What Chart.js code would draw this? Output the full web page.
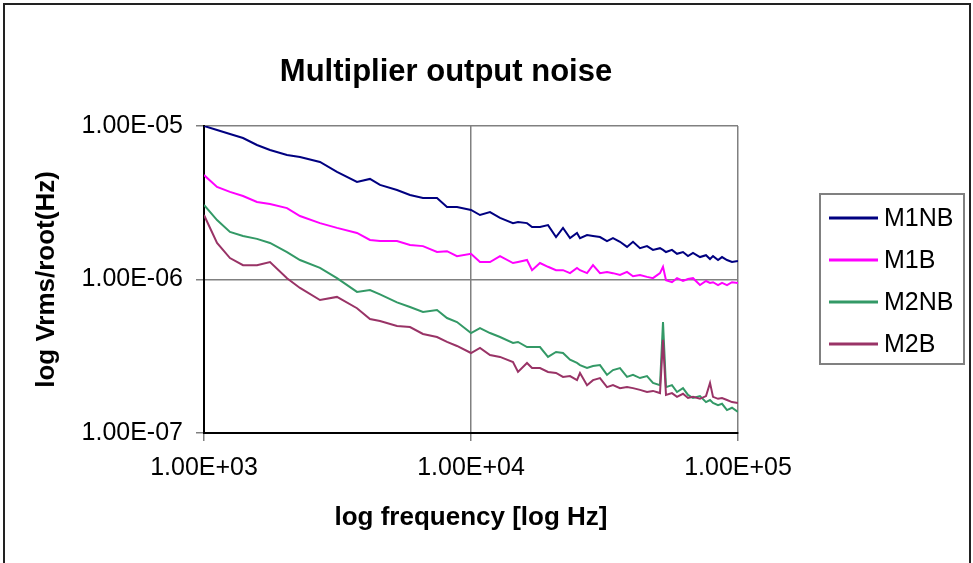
<!DOCTYPE html>
<html lang="en">
<head>
  <meta charset="UTF-8">
  <title>Multiplier output noise</title>
  <style>
    body { margin: 0; background: #fff; }
    #wrap { width: 973px; height: 563px; }
  </style>
  <script src="https://cdn.jsdelivr.net/npm/chart.js"></script>
</head>
<body>
  <div id="wrap"><canvas id="noiseChart" width="973" height="563"></canvas></div>

  <script>
    const chartTitle = 'Multiplier output noise';
    const xAxisTitle = 'log frequency [log Hz]';
    const yAxisTitle = 'log Vrms/root(Hz)';

    const seriesNames = ['M1NB', 'M1B', 'M2NB', 'M2B'];
    const seriesColors = ['#000080', '#FF00FF', '#339966', '#993366'];

    const xTickValues = [1e3, 1e4, 1e5];
    const xTickLabels = ['1.00E+03', '1.00E+04', '1.00E+05'];
    const yTickValues = [1e-7, 1e-6, 1e-5];
    const yTickLabels = ['1.00E-07', '1.00E-06', '1.00E-05'];

    // frequency in Hz (shared by all series)
    const freqHz = [1000, 1119, 1251, 1400, 1579, 1767, 2046, 2288, 2719, 3148,
      3741, 4184, 4562, 5283, 5909, 6609, 7459, 8131, 8862, 10000,
      10807, 11781, 12843, 14365, 15000, 16208, 16930, 18130, 19430, 20820,
      22110, 23490, 24946, 25600, 27200, 28640, 30418, 32310, 34020, 36145,
      38400, 40433, 42950, 45624, 48040, 51037, 52373, 53740, 56580, 59100,
      62230, 64970, 67840, 72040, 75890, 78560, 80620, 84180, 87130, 90950,
      94950, 100000];

    // noise in microvolts per root Hz
    const m1nb = [10.0, 9.42, 8.87, 8.35, 7.52, 6.98, 6.47, 6.28, 5.83, 5.02,
      4.32, 4.52, 4.13, 3.83, 3.55, 3.40, 3.40, 2.97, 2.97, 2.84,
      2.63, 2.75, 2.52, 2.33, 2.37, 2.33, 2.20, 2.20, 2.26, 1.89,
      2.17, 1.86, 2.01, 1.86, 1.95, 1.92, 1.89, 1.78, 1.86, 1.76,
      1.63, 1.76, 1.60, 1.65, 1.56, 1.60, 1.56, 1.51, 1.56, 1.47,
      1.51, 1.42, 1.49, 1.40, 1.44, 1.36, 1.42, 1.34, 1.40, 1.34,
      1.30, 1.32];
    const m1b = [4.79, 4.01, 3.72, 3.50, 3.20, 3.10, 2.92, 2.59, 2.33, 2.17,
      2.01, 1.81, 1.78, 1.78, 1.68, 1.65, 1.51, 1.53, 1.42, 1.47,
      1.30, 1.30, 1.42, 1.28, 1.30, 1.34, 1.15, 1.28, 1.21, 1.15,
      1.15, 1.10, 1.19, 1.15, 1.10, 1.24, 1.10, 1.12, 1.10, 1.07,
      1.12, 1.05, 1.07, 1.04, 1.02, 1.10, 1.21, 0.99, 0.96, 1.02,
      0.978, 1.008, 1.02, 0.92, 0.978, 0.95, 0.96, 0.92, 0.95, 0.92,
      0.96, 0.95];
    const m2nb = [3.06, 2.44, 2.04, 1.92, 1.84, 1.73, 1.51, 1.34, 1.19, 1.02,
      0.83, 0.854, 0.80, 0.71, 0.662, 0.614, 0.633, 0.561, 0.528, 0.448,
      0.483, 0.448, 0.422, 0.386, 0.392, 0.363, 0.363, 0.363, 0.313, 0.337,
      0.332, 0.30, 0.286, 0.277, 0.265, 0.273, 0.277, 0.239, 0.257, 0.265,
      0.232, 0.239, 0.228, 0.235, 0.212, 0.205, 0.528, 0.199, 0.205, 0.185,
      0.196, 0.177, 0.169, 0.174, 0.159, 0.164, 0.157, 0.152, 0.155, 0.141,
      0.146, 0.137];
    const m2b = [2.63, 1.73, 1.38, 1.24, 1.24, 1.30, 1.02, 0.881, 0.735, 0.77,
      0.65, 0.553, 0.537, 0.498, 0.49, 0.442, 0.422, 0.392, 0.369, 0.332,
      0.358, 0.322, 0.313, 0.29, 0.25, 0.286, 0.265, 0.265, 0.25, 0.246,
      0.232, 0.235, 0.221, 0.246, 0.205, 0.221, 0.228, 0.199, 0.205, 0.196,
      0.199, 0.196, 0.191, 0.185, 0.188, 0.182, 0.404, 0.177, 0.182, 0.172,
      0.180, 0.169, 0.172, 0.167, 0.174, 0.212, 0.172, 0.167, 0.169, 0.164,
      0.159, 0.157];

    const seriesValues = [m1nb, m1b, m2nb, m2b];
    const FONT = '"Liberation Sans", Arial, sans-serif';

    // frame, title and the boxed legend, Excel style
    const excelBits = {
      id: 'excelBits',
      beforeDraw(chart) {
        const ctx = chart.ctx;
        ctx.save();
        ctx.fillStyle = '#fff';
        ctx.fillRect(0, 0, chart.width, chart.height);
        ctx.strokeStyle = '#222';
        ctx.lineWidth = 2;
        ctx.strokeRect(4, 4, 966, 590);
        ctx.fillStyle = '#000';
        ctx.font = 'bold 31px ' + FONT;
        ctx.textAlign = 'center';
        ctx.textBaseline = 'middle';
        ctx.fillText(chartTitle, 446, 72);
        ctx.restore();
      },
      afterDraw(chart) {
        const ctx = chart.ctx;
        ctx.save();
        ctx.strokeStyle = '#808080';
        ctx.lineWidth = 2;
        ctx.strokeRect(820, 194, 144, 170);
        ctx.font = '25px ' + FONT;
        ctx.textAlign = 'left';
        ctx.textBaseline = 'middle';
        chart.data.datasets.forEach((ds, i) => {
          const y = 218 + i * 42;
          ctx.strokeStyle = ds.borderColor;
          ctx.lineWidth = 3;
          ctx.beginPath();
          ctx.moveTo(829, y);
          ctx.lineTo(878, y);
          ctx.stroke();
          ctx.fillStyle = '#000';
          ctx.fillText(ds.label, 884, y + 1);
        });
        ctx.restore();
      }
    };

    const datasets = seriesNames.map((name, i) => ({
      label: name,
      data: freqHz.map((f, j) => ({ x: f, y: seriesValues[i][j] * 1e-6 })),
      borderColor: seriesColors[i],
      backgroundColor: seriesColors[i],
      borderWidth: 2,
      pointRadius: 0,
      tension: 0,
      order: seriesNames.length - i
    }));

    new Chart(document.getElementById('noiseChart'), {
      type: 'line',
      data: { datasets: datasets },
      plugins: [excelBits],
      options: {
        responsive: false,
        animation: false,
        layout: { padding: { top: 126, right: 235, left: 0, bottom: 0 } },
        plugins: {
          legend: { display: false },
          title: { display: false },
          tooltip: { enabled: false }
        },
        scales: {
          x: {
            type: 'logarithmic',
            min: 1e3,
            max: 1e5,
            afterFit: (s) => { s.height = 130; },
            afterBuildTicks: (s) => { s.ticks = xTickValues.map(v => ({ value: v })); },
            ticks: {
              autoSkip: false,
              maxRotation: 0,
              padding: 12,
              color: '#000',
              font: { family: FONT, size: 25 },
              callback: (v, i) => xTickLabels[i]
            },
            grid: { color: '#808080', lineWidth: 1.5, tickLength: 8 },
            border: { color: '#000', width: 2 },
            title: {
              display: true,
              text: xAxisTitle,
              color: '#000',
              font: { family: FONT, size: 26, weight: 'bold' },
              padding: { bottom: 30 }
            }
          },
          y: {
            type: 'logarithmic',
            min: 1e-7,
            max: 1e-5,
            afterFit: (s) => { s.width = 204; },
            afterBuildTicks: (s) => { s.ticks = yTickValues.map(v => ({ value: v })); },
            ticks: {
              autoSkip: false,
              padding: 13,
              color: '#000',
              font: { family: FONT, size: 25 },
              callback: (v, i) => yTickLabels[i]
            },
            grid: { color: '#808080', lineWidth: 1.5, tickLength: 8 },
            border: { color: '#000', width: 2 },
            title: {
              display: true,
              text: yAxisTitle,
              color: '#000',
              font: { family: FONT, size: 26, weight: 'bold' },
              padding: { top: 31 }
            }
          }
        }
      }
    });
  </script>
</body>
</html>
